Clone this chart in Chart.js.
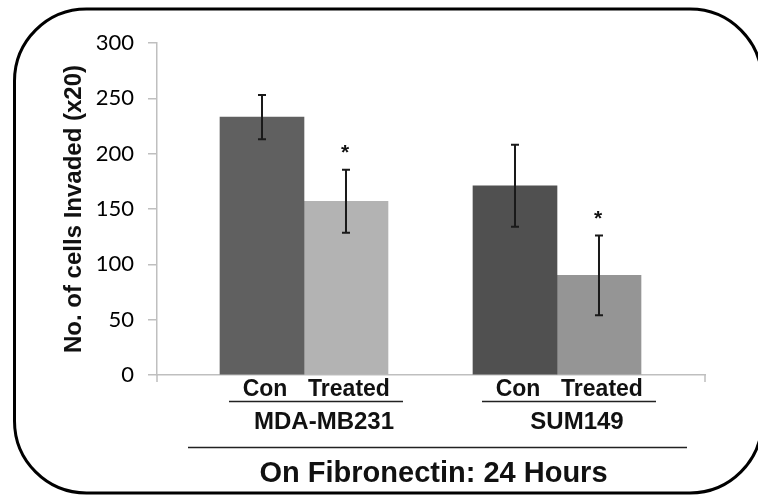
<!DOCTYPE html>
<html><head><meta charset="utf-8">
<script src="https://cdn.jsdelivr.net/npm/chart.js@4"></script>
<style>html,body{margin:0;padding:0;background:#fff;}#wrap{width:758px;height:495px;position:relative}</style>
</head><body><div id="wrap"><canvas id="c" width="758" height="495"></canvas></div>
<script>
// ---- data ----
const groups = ['MDA-MB231', 'SUM149'];
const conditions = ['Con', 'Treated'];
const conValues = [233, 171];
const treatedValues = [157, 90];
const conErrors = [20, 37];
const treatedErrors = [28.5, 36];
const conSignificant = [false, false];
const treatedSignificant = [true, true];
const yTicks = [0, 50, 100, 150, 200, 250, 300];
const yAxisTitle = 'No. of cells Invaded (x20)';
const xAxisTitle = 'On Fibronectin: 24 Hours';

const BOLD = 'bold {s}px "Liberation Sans", Arial, sans-serif';
function bold(s){ return BOLD.replace('{s}', s); }

const decor = {
  id: 'decor',
  beforeDraw(chart) {
    const ctx = chart.ctx;
    ctx.save();
    ctx.fillStyle = '#fff';
    ctx.fillRect(0, 0, chart.width, chart.height);
    // rounded frame
    const x0 = 14.5, y0 = 9, x1 = 762, y1 = 493, r = 72;
    ctx.beginPath();
    ctx.moveTo(x0 + r, y0);
    ctx.lineTo(x1 - r, y0);
    ctx.arcTo(x1, y0, x1, y0 + r, r);
    ctx.lineTo(x1, y1 - r);
    ctx.arcTo(x1, y1, x1 - r, y1, r);
    ctx.lineTo(x0 + r, y1);
    ctx.arcTo(x0, y1, x0, y1 - r, r);
    ctx.lineTo(x0, y0 + r);
    ctx.arcTo(x0, y0, x0 + r, y0, r);
    ctx.closePath();
    ctx.lineWidth = 3;
    ctx.strokeStyle = '#000';
    ctx.stroke();
    ctx.restore();
  },
  afterDatasetsDraw(chart) {
    const ctx = chart.ctx;
    const y = chart.scales.y;
    const a = chart.chartArea;
    ctx.save();
    // axis end ticks
    ctx.strokeStyle = '#bfbfbf';
    ctx.lineWidth = 1.5;
    ctx.beginPath();
    ctx.moveTo(a.left, a.bottom); ctx.lineTo(a.left, a.bottom + 7);
    ctx.moveTo(a.right, a.bottom); ctx.lineTo(a.right, a.bottom + 7);
    ctx.stroke();
    chart.data.datasets.forEach((ds, di) => {
      const meta = chart.getDatasetMeta(di);
      meta.data.forEach((bar, i) => {
        const v = ds.data[i].y, e = ds.errors[i];
        const top = y.getPixelForValue(v + e), bot = y.getPixelForValue(v - e);
        const cx = bar.x;
        ctx.strokeStyle = '#1a1a1a';
        ctx.lineWidth = 2;
        ctx.beginPath();
        ctx.moveTo(cx, top); ctx.lineTo(cx, bot);
        ctx.moveTo(cx - 4, top); ctx.lineTo(cx + 4, top);
        ctx.moveTo(cx - 4, bot); ctx.lineTo(cx + 4, bot);
        ctx.stroke();
        if (ds.significant[i]) {
          const fs = 21;
          ctx.font = bold(fs);
          ctx.fillStyle = '#111';
          ctx.textAlign = 'center';
          ctx.textBaseline = 'alphabetic';
          ctx.fillText('*', cx - 1, top - 23 + 0.575 * fs);
        }
      });
    });
    ctx.restore();
  },
  afterDraw(chart) {
    const ctx = chart.ctx;
    ctx.save();
    ctx.fillStyle = '#111';
    ctx.textAlign = 'center';
    ctx.textBaseline = 'alphabetic';
    // condition labels under each bar
    ctx.font = bold(23);
    chart.data.datasets.forEach((ds, di) => {
      chart.getDatasetMeta(di).data.forEach(bar => {
        ctx.fillText(conditions[di], bar.x + 3, 396);
      });
    });
    // group labels and underline
    const xs = chart.scales.x;
    ctx.font = bold(24);
    ctx.strokeStyle = '#222';
    ctx.lineWidth = 1.5;
    groups.forEach((g, i) => {
      const gx = xs.getPixelForValue(i);
      ctx.beginPath();
      ctx.moveTo(gx - 75, 401.5); ctx.lineTo(gx + 99, 401.5);
      ctx.stroke();
      ctx.fillText(g, gx + 20, 429);
    });
    // overall line and title
    ctx.beginPath();
    ctx.moveTo(188, 447.5); ctx.lineTo(687, 447.5);
    ctx.stroke();
    ctx.font = bold(29);
    ctx.fillText(xAxisTitle, 433.5, 482);
    ctx.restore();
  }
};

new Chart(document.getElementById('c'), {
  type: 'bar',
  data: {
    datasets: [
      {
        label: conditions[0],
        data: groups.map((g, i) => ({ x: i, y: conValues[i] })),
        backgroundColor: ['#606060', '#505050'],
        errors: conErrors,
        significant: conSignificant
      },
      {
        label: conditions[1],
        data: groups.map((g, i) => ({ x: i, y: treatedValues[i] })),
        backgroundColor: ['#b3b3b3', '#959595'],
        errors: treatedErrors,
        significant: treatedSignificant
      }
    ]
  },
  options: {
    responsive: false,
    animation: false,
    devicePixelRatio: 1,
    barThickness: 84,
    layout: { padding: { top: 43, right: 53, left: 0, bottom: 0 } },
    plugins: { legend: { display: false }, tooltip: { enabled: false } },
    scales: {
      x: {
        type: 'linear',
        min: -0.581,
        max: 1.585,
        offset: false,
        bounds: 'data',
        ticks: { display: false, stepSize: 10 },
        grid: { display: false },
        border: { display: true, color: '#bfbfbf', width: 1.5 },
        afterDataLimits(s) { s.min = -0.581; s.max = 1.585; },
        afterFit(s) { s.height = 120; }
      },
      y: {
        min: 0,
        max: 300,
        afterBuildTicks(s) { s.ticks = yTicks.map(v => ({ value: v })); },
        ticks: { font: { family: 'Lato', size: 22 }, color: '#000', padding: 14 },
        grid: { drawOnChartArea: false, tickLength: 9, color: '#bfbfbf', lineWidth: 1.5 },
        border: { display: true, color: '#bfbfbf', width: 1.5 },
        title: {
          display: true,
          text: yAxisTitle,
          font: { family: 'Liberation Sans', weight: 'bold', size: 24 },
          color: '#111',
          padding: { top: 60, bottom: 0 }
        },
        afterFit(s) { s.width = 157; }
      }
    }
  },
  plugins: [decor]
});
</script>
</body></html>
